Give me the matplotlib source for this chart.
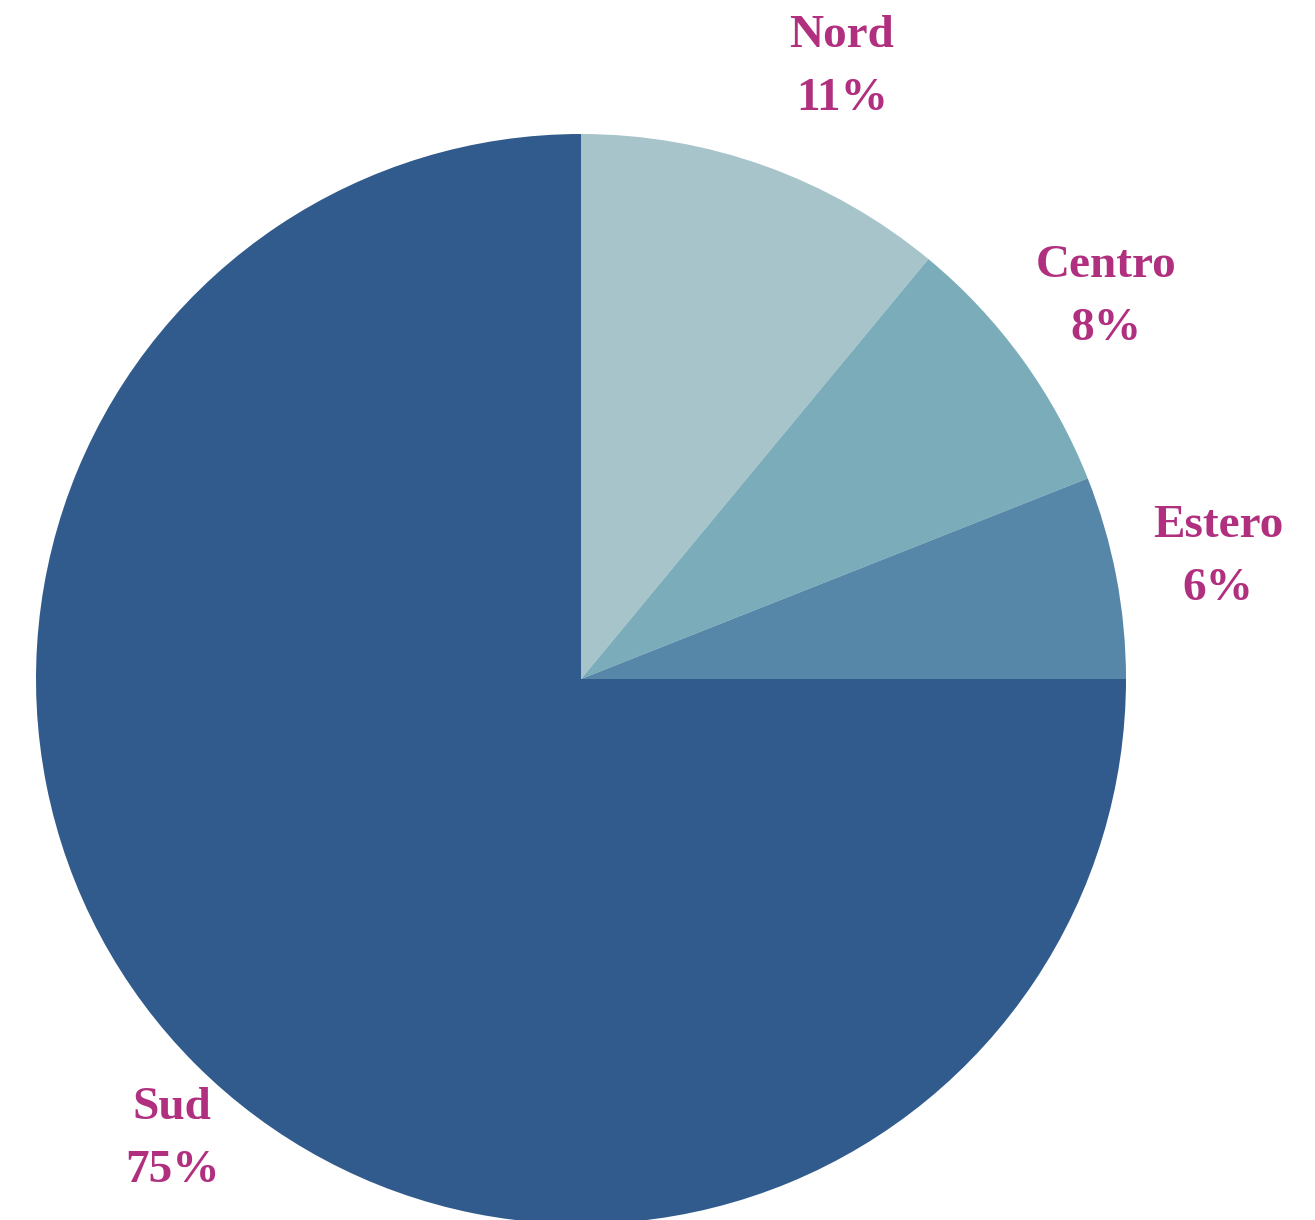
import numpy as np
import matplotlib
matplotlib.use('Agg')
from matplotlib import pyplot as plt

# regional shares (%)
regions = ['Nord', 'Centro', 'Estero', 'Sud']
shares = [11, 8, 6, 75]
colors = ['#a6c4ca', '#7aacb9', '#5787a8', '#305b8c']

fig = plt.figure(figsize=(13.15, 12.2), dpi=100)
ax = fig.add_axes([0, 0, 1, 1])

wedges, _ = ax.pie(shares, colors=colors, startangle=90, counterclock=False,
                   center=(581, 541), radius=545, frame=True,
                   wedgeprops=dict(linewidth=0))
ax.set_xlim(0, 1315)
ax.set_ylim(0, 1220)
ax.set_aspect('equal')
ax.axis('off')

# label positions: along the mid-angle of each wedge
dist = [1.22, 1.19, 1.19, 1.13]
shift = [-3.3, 0, 0, 3.4]  # small angle nudge in degrees
for w, name, s, d, sh in zip(wedges, regions, shares, dist, shift):
    ang = np.deg2rad((w.theta1 + w.theta2) / 2 + sh)
    x = 581 + 545 * d * np.cos(ang)
    y = 541 + 545 * d * np.sin(ang)
    ax.text(x, y, f'{name}\n{s}%', ha='center', va='center',
            fontsize=34, fontweight='bold', family='Liberation Serif',
            color='#b0307f', linespacing=1.65)

fig.savefig('out.png', dpi=100, facecolor='white')
